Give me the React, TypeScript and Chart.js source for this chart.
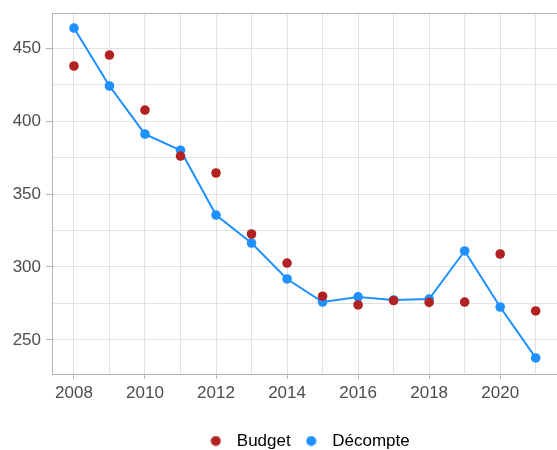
import React, { useEffect, useRef } from "react";
import { Chart, registerables } from "chart.js";

Chart.register(...registerables);

const years = [2008, 2009, 2010, 2011, 2012, 2013, 2014, 2015, 2016, 2017, 2018, 2019, 2020, 2021];
const budget = [437.7, 445.2, 407.5, 376, 364.4, 322.6, 302.7, 280, 274, 277, 275.8, 276, 308.9, 269.9];
const decompte = [463.7, 424, 391, 380, 335.6, 316.4, 291.8, 276, 279.5, 277.4, 278, 311, 272.6, 237.7];
const yTickLabels = [250, 300, 350, 400, 450];
const xTickLabels = [2008, 2010, 2012, 2014, 2016, 2018, 2020];

const FONT = "Liberation Sans, Arial, sans-serif";
const RED = "#b22222";
const BLUE = "#1e90ff";

function dotImage(color: string) {
  const c = document.createElement("canvas");
  c.width = 11;
  c.height = 11;
  const g = c.getContext("2d")!;
  g.fillStyle = color;
  g.beginPath();
  g.arc(5.5, 5.5, 5, 0, Math.PI * 2);
  g.fill();
  return c;
}

const topBorderAndLegend = {
  id: "topBorderAndLegend",
  afterLayout(chart: any) {
    const lg = chart.legend;
    if (lg) {
      const h = lg.height;
      lg.top = 424.5;
      lg.bottom = 424.5 + h;
      lg.left += 28;
      lg.right += 28;
    }
  },
  afterDraw(chart: any) {
    const { ctx, chartArea } = chart;
    ctx.save();
    ctx.strokeStyle = "#b3b3b3";
    ctx.lineWidth = 1;
    ctx.beginPath();
    ctx.moveTo(chartArea.left, chartArea.top + 0.5);
    ctx.lineTo(chartArea.right, chartArea.top + 0.5);
    ctx.stroke();
    ctx.restore();
  },
};

export default function App() {
  const ref = useRef<HTMLCanvasElement>(null);
  useEffect(() => {
    document.body.style.margin = "0";
    const images: Record<string, HTMLCanvasElement> = { Budget: dotImage(RED), "Décompte": dotImage(BLUE) };
    const chart = new Chart(ref.current!, {
      type: "line",
      data: {
        datasets: [
          {
            label: "Budget",
            data: years.map((y, i) => ({ x: y, y: budget[i] })),
            showLine: false,
            backgroundColor: RED,
            borderColor: RED,
            pointRadius: 4.8,
            pointBorderWidth: 0,
            pointStyle: "circle",
          },
          {
            label: "Décompte",
            data: years.map((y, i) => ({ x: y, y: decompte[i] })),
            borderColor: BLUE,
            backgroundColor: BLUE,
            borderWidth: 2,
            pointRadius: 4.8,
            pointBorderWidth: 0,
            tension: 0,
            pointStyle: "circle",
          },
        ],
      },
      options: {
        animation: false,
        responsive: false,
        layout: { autoPadding: false, padding: { top: 13, left: 0, right: 0, bottom: 0 } },
        plugins: {
          legend: {
            position: "bottom",
            labels: {
              usePointStyle: true,
              boxHeight: 11,
              pointStyleWidth: 25,
              color: "#000000",
              font: { family: FONT, size: 17 },
              padding: 8,
              generateLabels(ch: any) {
                const items = (Chart.defaults as any).plugins.legend.labels.generateLabels(ch);
                return items.map((it: any) => ({ ...it, pointStyle: images[it.text] }));
              },
            },
          },
          tooltip: { enabled: false },
        },
        scales: {
          x: {
            type: "linear",
            min: 2007.382,
            max: 2021.6,
            afterBuildTicks(axis: any) {
              axis.ticks = years.map((v) => ({ value: v }));
            },
            afterFit(axis: any) {
              axis.height = 41;
              axis.paddingLeft = 0;
              axis.paddingRight = 0;
            },
            ticks: {
              autoSkip: false,
              maxRotation: 0,
              color: "#4d4d4d",
              font: { family: FONT, size: 17 },
              padding: 4,
              callback: (v: any) => (xTickLabels.includes(Number(v)) ? String(v) : ""),
            },
            grid: {
              color: "#e2e2e2",
              lineWidth: 1,
              drawTicks: true,
              tickLength: 5,
              tickColor: (c: any) => (c.tick && xTickLabels.includes(c.tick.value) ? "#b3b3b3" : "rgba(0,0,0,0)"),
            },
            border: { color: "#b3b3b3", width: 1 },
          },
          y: {
            min: 226.7,
            max: 474,
            afterBuildTicks(axis: any) {
              const t: any[] = [];
              for (let v = 250; v <= 450; v += 25) t.push({ value: v });
              axis.ticks = t;
            },
            afterFit(axis: any) {
              axis.width = 52;
              axis.paddingTop = 0;
              axis.paddingBottom = 0;
            },
            ticks: {
              autoSkip: false,
              color: "#4d4d4d",
              font: { family: FONT, size: 17 },
              padding: 5,
              callback: (v: any) => (yTickLabels.includes(Number(v)) ? String(v) : ""),
            },
            grid: {
              color: "#e2e2e2",
              lineWidth: 1,
              drawTicks: true,
              tickLength: 6,
              tickColor: (c: any) => (c.tick && yTickLabels.includes(c.tick.value) ? "#b3b3b3" : "rgba(0,0,0,0)"),
            },
            border: { color: "#b3b3b3", width: 1 },
          },
        },
      },
      plugins: [topBorderAndLegend],
    });
    return () => chart.destroy();
  }, []);
  return (
    <div style={{ position: "absolute", left: 0, top: 0, width: 557, height: 450 }}>
      <canvas ref={ref} width={557} height={450} style={{ display: "block" }} />
    </div>
  );
}
